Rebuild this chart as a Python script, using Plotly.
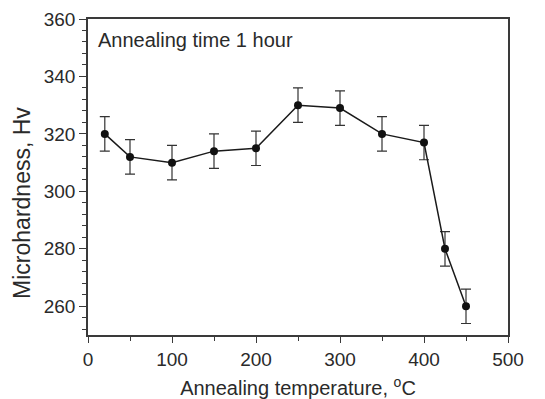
import plotly.graph_objects as go

temperature = [20, 50, 100, 150, 200, 250, 300, 350, 400, 425, 450]
hardness = [320, 312, 310, 314, 315, 330, 329, 320, 317, 280, 260]
error = [6, 6, 6, 6, 6, 6, 6, 6, 6, 6, 6]

x_ticks = [0, 100, 200, 300, 400, 500]
y_ticks = [260, 280, 300, 320, 340, 360]

axis_color = "#3a3a3a"
text_color = "#2a2a2a"
font_family = "Liberation Sans, Arial, sans-serif"

fig = go.Figure()
fig.add_trace(go.Scatter(
    x=temperature, y=hardness,
    mode="lines+markers",
    line=dict(color="#1a1a1a", width=1.5),
    marker=dict(color="#111111", size=8),
    error_y=dict(type="data", array=error, visible=True,
                 color="#333333", thickness=1.2, width=5),
    showlegend=False,
))

# page body adds an 8px offset, so the figure is sized to fit the window
fig.update_layout(
    width=537, height=391,
    margin=dict(l=80, r=37, t=11, b=64, autoexpand=False),
    paper_bgcolor="white", plot_bgcolor="white",
    font=dict(family=font_family, size=19, color=text_color),
)

fig.update_xaxes(
    range=[0, 500], tickvals=x_ticks,
    showgrid=False, zeroline=False, automargin=False,
    showline=True, linecolor=axis_color, linewidth=1.5, mirror=True,
    ticks="outside", ticklen=6, tickwidth=1.2, tickcolor=axis_color,
    minor=dict(dtick=50, ticks="outside", ticklen=4, tickwidth=1.2, tickcolor=axis_color),
    tickfont=dict(size=19),
    title=dict(text="Annealing temperature, <sup>o</sup>C", font=dict(size=20), standoff=13),
)
fig.update_yaxes(
    range=[250, 360], tickvals=y_ticks,
    showgrid=False, zeroline=False, automargin=False,
    showline=True, linecolor=axis_color, linewidth=1.5, mirror=True,
    ticks="outside", ticklen=7, tickwidth=1.2, tickcolor=axis_color,
    minor=dict(tick0=248, dtick=4, ticks="outside", ticklen=4, tickwidth=1.2, tickcolor=axis_color),
    tickfont=dict(size=19),
)

# y-axis title (placed as annotation to match its offset in the reference)
fig.add_annotation(
    x=0, y=0.418, xref="paper", yref="paper",
    xanchor="center", yanchor="middle", xshift=-66,
    textangle=-90, showarrow=False, borderpad=0,
    text="Microhardness, Hv", font=dict(size=23, color=text_color),
)

fig.add_annotation(
    x=0.02, y=0.975, xref="paper", yref="paper",
    xanchor="left", yanchor="top", showarrow=False,
    text="Annealing time 1 hour", font=dict(size=20, color=text_color),
)

fig.write_html("out.html")
